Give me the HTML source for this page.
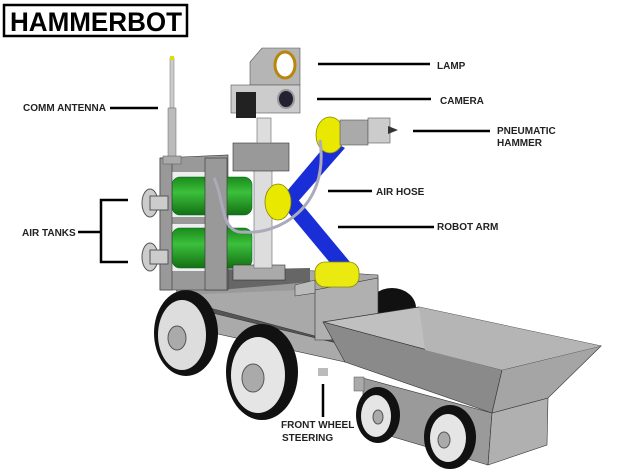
<!DOCTYPE html>
<html><head><meta charset="utf-8"><style>
html,body{margin:0;padding:0;background:#fff;}
svg{display:block}
.t{font-family:"Liberation Sans",sans-serif;font-weight:bold;font-size:10px;fill:#222;}
</style></head><body>
<svg width="639" height="474" viewBox="0 0 639 474" xmlns="http://www.w3.org/2000/svg">
<defs>
<linearGradient id="g" x1="0" y1="0" x2="0" y2="1"><stop offset="0" stop-color="#1a8a1a"/><stop offset=".4" stop-color="#3cc03c"/><stop offset="1" stop-color="#137013"/></linearGradient>
</defs>
<!-- title -->
<rect x="4" y="5" width="183" height="31" fill="#fff" stroke="#000" stroke-width="2.5"/>
<text x="10" y="31" font-family="Liberation Sans,sans-serif" font-weight="bold" font-size="27" fill="#000" textLength="172" lengthAdjust="spacingAndGlyphs">HAMMERBOT</text>

<!-- back wheel -->
<ellipse cx="392" cy="308" rx="24" ry="20" fill="#111"/>
<!-- chassis lower -->
<polygon points="175,300 345,340 345,355 175,318" fill="#555"/>
<polygon points="200,310 345,345 345,362 200,330" fill="#aaa" stroke="#333" stroke-width=".6"/>
<!-- main body -->
<polygon points="165,260 300,270 378,275 378,330 330,340 180,300" fill="#a9a9a9" stroke="#333" stroke-width=".6"/>
<polygon points="165,260 300,270 300,290 180,295" fill="#9a9a9a"/>
<polygon points="210,270 310,268 310,282 220,290" fill="#666"/>
<polygon points="315,290 378,278 378,330 330,340 315,340" fill="#b0b0b0" stroke="#333" stroke-width=".6"/>
<polygon points="295,285 315,280 315,293 295,296" fill="#bbb" stroke="#333" stroke-width=".5"/>
<!-- wheels -->
<ellipse cx="186" cy="333" rx="32" ry="43" fill="#111"/>
<ellipse cx="182" cy="335" rx="24" ry="35" fill="#ddd"/>
<ellipse cx="177" cy="338" rx="9" ry="12" fill="#aaa" stroke="#555"/>
<ellipse cx="262" cy="372" rx="36" ry="48" fill="#111"/>
<ellipse cx="258" cy="375" rx="27" ry="38" fill="#e5e5e5"/>
<ellipse cx="253" cy="378" rx="11" ry="14" fill="#aaa" stroke="#555"/>
<rect x="318" y="368" width="10" height="8" fill="#bbb"/>
<!-- frame -->
<polygon points="160,158 228,155 228,290 160,290" fill="#999" stroke="#333" stroke-width=".6"/>
<rect x="168" y="172" width="52" height="45" fill="#eee"/>
<rect x="168" y="224" width="52" height="47" fill="#eee"/>
<!-- tanks -->
<rect x="172" y="177" width="80" height="38" rx="8" fill="url(#g)" stroke="#063" stroke-width=".6"/>
<rect x="172" y="228" width="80" height="40" rx="8" fill="url(#g)" stroke="#063" stroke-width=".6"/>
<rect x="205" y="158" width="22" height="132" fill="#999" stroke="#333" stroke-width=".6"/>
<rect x="160" y="158" width="12" height="132" fill="#999" stroke="#333" stroke-width=".6"/>
<!-- valves -->
<ellipse cx="150" cy="203" rx="8" ry="14" fill="#ccc" stroke="#555"/>
<rect x="150" y="196" width="18" height="14" fill="#ccc" stroke="#555"/>
<ellipse cx="150" cy="257" rx="8" ry="14" fill="#ccc" stroke="#555"/>
<rect x="150" y="250" width="18" height="14" fill="#ccc" stroke="#555"/>
<!-- antenna -->
<rect x="170" y="58" width="4" height="50" fill="#ccc" stroke="#777" stroke-width=".5"/>
<rect x="170" y="56" width="4" height="4" fill="#dd0"/>
<rect x="168" y="108" width="8" height="50" fill="#bbb" stroke="#666" stroke-width=".5"/>
<rect x="163" y="156" width="18" height="8" fill="#aaa" stroke="#555" stroke-width=".5"/>
<!-- mast -->
<rect x="233" y="265" width="52" height="15" fill="#aaa" stroke="#333" stroke-width=".6"/>
<rect x="254" y="170" width="18" height="98" fill="#ddd" stroke="#666" stroke-width=".6"/>
<rect x="233" y="143" width="56" height="28" fill="#999" stroke="#333" stroke-width=".6"/>
<rect x="257" y="118" width="14" height="25" fill="#ddd" stroke="#666" stroke-width=".6"/>
<!-- camera/lamp -->
<polygon points="262,48 300,48 300,85 250,85 250,62" fill="#b5b5b5" stroke="#555" stroke-width=".6"/>
<rect x="231" y="85" width="69" height="28" fill="#ccc" stroke="#555" stroke-width=".6"/>
<ellipse cx="285" cy="65" rx="10" ry="13" fill="#fff" stroke="#b8860b" stroke-width="3"/>
<ellipse cx="286" cy="99" rx="8" ry="9" fill="#223" stroke="#999" stroke-width="2"/>
<rect x="236" y="92" width="20" height="26" fill="#222"/>
<!-- arm -->
<polygon points="330,140 345,148 295,205 282,197" fill="#1a2ed8"/>
<polygon points="282,205 296,197 350,262 336,270" fill="#1a2ed8"/>
<ellipse cx="278" cy="202" rx="13" ry="18" fill="#e8e800" stroke="#880" stroke-width=".8"/>
<ellipse cx="330" cy="135" rx="14" ry="18" fill="#e8e800" stroke="#880" stroke-width=".8"/>
<rect x="315" y="262" width="44" height="25" rx="10" fill="#eaea10" stroke="#880" stroke-width=".8"/>
<!-- hammer -->
<rect x="340" y="120" width="28" height="25" fill="#aaa" stroke="#555" stroke-width=".6"/>
<rect x="368" y="118" width="22" height="25" fill="#ccc" stroke="#555" stroke-width=".6"/>
<polygon points="388,126 398,130 388,134" fill="#333"/>
<!-- hose -->
<path d="M214,178 C225,200 220,235 245,232 C275,235 330,210 320,140" fill="none" stroke="#aab" stroke-width="3"/>
<!-- trailer -->
<polygon points="363,378 492,413 488,465 363,428" fill="#9a9a9a" stroke="#333" stroke-width=".6"/>
<polygon points="492,413 548,398 547,445 488,465" fill="#b0b0b0" stroke="#333" stroke-width=".6"/>
<polygon points="323,322 419,307 601,346 502,370" fill="#c0c0c0" stroke="#333" stroke-width=".7"/>
<polygon points="323,322 502,370 492,413 345,362" fill="#8a8a8a" stroke="#333" stroke-width=".6"/>
<polygon points="502,370 601,346 548,398 492,413" fill="#a5a5a5" stroke="#333" stroke-width=".6"/>
<polygon points="419,307 601,346 502,370 425,350" fill="#b5b5b5"/>
<rect x="354" y="377" width="10" height="14" fill="#aaa" stroke="#555" stroke-width=".5"/>
<ellipse cx="378" cy="415" rx="22" ry="28" fill="#111"/>
<ellipse cx="376" cy="416" rx="15" ry="21" fill="#e5e5e5"/>
<ellipse cx="378" cy="417" rx="5" ry="7" fill="#aaa" stroke="#555"/>
<ellipse cx="450" cy="437" rx="26" ry="32" fill="#111"/>
<ellipse cx="448" cy="438" rx="18" ry="24" fill="#e5e5e5"/>
<ellipse cx="444" cy="440" rx="6" ry="8" fill="#aaa" stroke="#555"/>
<!-- leader lines -->
<g stroke="#000" stroke-width="2.5" fill="none">
<line x1="318" y1="64" x2="430" y2="64"/>
<line x1="317" y1="99" x2="431" y2="99"/>
<line x1="413" y1="131" x2="490" y2="131"/>
<line x1="328" y1="191" x2="372" y2="191"/>
<line x1="338" y1="227" x2="434" y2="227"/>
<line x1="110" y1="108" x2="158" y2="108"/>
<polyline points="128,200 101,200 101,262 128,262"/>
<line x1="78" y1="232" x2="101" y2="232"/>
<line x1="323" y1="384" x2="323" y2="417"/>
</g>
<text class="t" x="437" y="69">LAMP</text>
<text class="t" x="440" y="104">CAMERA</text>
<text class="t" x="497" y="134">PNEUMATIC</text>
<text class="t" x="497" y="146">HAMMER</text>
<text class="t" x="376" y="195">AIR HOSE</text>
<text class="t" x="437" y="230">ROBOT ARM</text>
<text class="t" x="23" y="111">COMM ANTENNA</text>
<text class="t" x="22" y="236">AIR TANKS</text>
<text class="t" x="281" y="428">FRONT WHEEL</text>
<text class="t" x="282" y="441">STEERING</text>
</svg>
</body></html>
